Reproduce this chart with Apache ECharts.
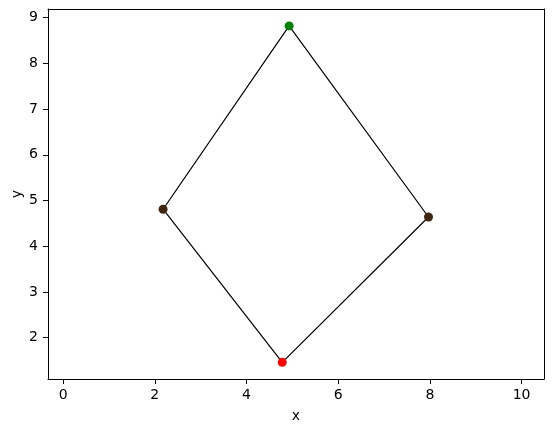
<!DOCTYPE html>
<html>
<head>
<meta charset="utf-8">
<script src="https://cdn.jsdelivr.net/npm/echarts@6/dist/echarts.min.js"></script>
<style>html,body{margin:0;padding:0;background:#fff}#c{width:554px;height:432px}</style>
</head>
<body>
<div id="c"></div>
<script>
// Polygon vertices (in drawing order)
const xs = [4.93, 7.97, 4.78, 2.18];
const ys = [8.82, 4.64, 1.46, 4.81];
const pointColors = ['#008000', '#3f2712', '#ff0000', '#3f2712'];
const xTicks = [0, 2, 4, 6, 8, 10];
const yTicks = [2, 3, 4, 5, 6, 7, 8, 9];

const lineData = xs.map((x, i) => [x, ys[i]]);
lineData.push([xs[0], ys[0]]);
const scatterData = xs.map((x, i) => ({ value: [x, ys[i]], itemStyle: { color: pointColors[i], opacity: 1 } }));

const font = 'DejaVu Sans';
const XMIN = -0.33, XMAX = 10.49, YMIN = 1.096, YMAX = 9.19;
const spine = { show: true, onZero: false, lineStyle: { color: '#000', width: 1 } };
const chart = echarts.init(document.getElementById('c'), null, { renderer: 'canvas' });
chart.setOption({
  animation: false,
  backgroundColor: '#fff',
  grid: { left: 48, right: 10, top: 9, bottom: 53, containLabel: false, outerBoundsMode: 'none', show: false },
  xAxis: [{
    type: 'value', min: XMIN, max: XMAX, position: 'bottom',
    name: 'x', nameLocation: 'middle', nameGap: 30, nameMoveOverlap: false,
    nameTextStyle: { fontFamily: font, fontSize: 14, color: '#000' },
    axisLine: spine,
    splitLine: { show: false },
    axisTick: { show: true, inside: false, length: 5, customValues: xTicks, lineStyle: { color: '#000', width: 1 } },
    axisLabel: { customValues: xTicks, margin: 9, fontFamily: font, fontSize: 14, color: '#000' }
  }, {
    type: 'value', min: XMIN, max: XMAX, position: 'top',
    axisLine: spine, axisTick: { show: false }, axisLabel: { show: false }, splitLine: { show: false }
  }],
  yAxis: [{
    type: 'value', min: YMIN, max: YMAX, position: 'left',
    name: 'y', nameLocation: 'middle', nameGap: 24, nameMoveOverlap: false, nameRotate: 90,
    nameTextStyle: { fontFamily: font, fontSize: 14, color: '#000' },
    axisLine: spine,
    splitLine: { show: false },
    axisTick: { show: true, inside: false, length: 5, customValues: yTicks, lineStyle: { color: '#000', width: 1 } },
    axisLabel: { customValues: yTicks, margin: 10, fontFamily: font, fontSize: 14, color: '#000' }
  }, {
    type: 'value', min: YMIN, max: YMAX, position: 'right',
    axisLine: spine, axisTick: { show: false }, axisLabel: { show: false }, splitLine: { show: false }
  }],
  series: [
    { type: 'line', data: lineData, showSymbol: false, symbol: 'none', lineStyle: { color: '#000', width: 1.2 }, z: 2 },
    { type: 'scatter', data: scatterData, symbolSize: 9, z: 3 }
  ]
});
</script>
</body>
</html>
